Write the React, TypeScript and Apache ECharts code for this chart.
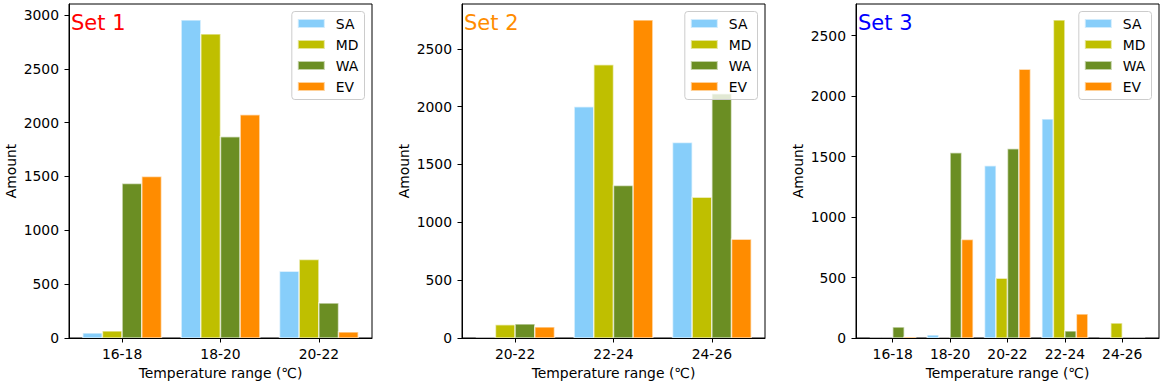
import React, { useEffect, useRef } from "react";
import * as echarts from "echarts";

const seriesNames = ["SA", "MD", "WA", "EV"];
const seriesColors = ["#87CEFA", "#BFBF00", "#6B8E23", "#FF8C00"];

const set1Categories = ["16-18", "18-20", "20-22"];
const set1SA = [46, 2954, 620];
const set1MD = [65, 2824, 729];
const set1WA = [1435, 1870, 324];
const set1EV = [1500, 2074, 56];

const set2Categories = ["20-22", "22-24", "24-26"];
const set2SA = [0, 2000, 1690];
const set2MD = [115, 2362, 1216];
const set2WA = [121, 1319, 2112];
const set2EV = [95, 2750, 853];

const set3Categories = ["16-18", "18-20", "20-22", "22-24", "24-26"];
const set3SA = [0, 25, 1424, 1811, 0];
const set3MD = [0, 0, 494, 2630, 123];
const set3WA = [90, 1531, 1564, 58, 0];
const set3EV = [8, 815, 2222, 198, 0];

const setTitles = ["Set 1", "Set 2", "Set 3"];
const setTitleColors = ["#FF0000", "#FF8C00", "#0000FF"];
const yTickStep = 500;

const panels = [
  { cats: set1Categories, values: [set1SA, set1MD, set1WA, set1EV], left: 69 },
  { cats: set2Categories, values: [set2SA, set2MD, set2WA, set2EV], left: 462 },
  { cats: set3Categories, values: [set3SA, set3MD, set3WA, set3EV], left: 856 },
];

const FONT = "DejaVu Sans";
const FS = 13.9;
const GRID_W = 303;
const GRID_TOP = 4;
const GRID_H = 336;

export default function App() {
  const ref = useRef<HTMLDivElement>(null);
  useEffect(() => {
    if (!ref.current) return;
    const chart = echarts.init(ref.current, undefined, { renderer: "svg" });
    const grids: any[] = [];
    const xAxes: any[] = [];
    const yAxes: any[] = [];
    const series: any[] = [];
    const legends: any[] = [];
    const graphics: any[] = [];
    panels.forEach((p, pi) => {
      const n = p.cats.length;
      const span = n - 1 + 0.8;
      const xmin = -0.4 - 0.05 * span;
      const xmax = n - 1 + 0.4 + 0.05 * span;
      let maxV = 0;
      p.values.forEach((arr) => arr.forEach((v) => (maxV = Math.max(maxV, v))));
      const ymax = maxV * 1.05;
      const yTicks: number[] = [];
      for (let t = 0; t <= ymax; t += yTickStep) yTicks.push(t);
      const xTicks = p.cats.map((_, i) => i);
      grids.push({
        left: p.left,
        top: GRID_TOP,
        width: GRID_W,
        height: GRID_H,
        show: true,
        borderColor: "#000",
        borderWidth: 1,
        backgroundColor: "transparent",
      });
      xAxes.push({
        type: "value",
        gridIndex: pi,
        min: xmin,
        max: xmax,
        splitLine: { show: false },
        axisLine: { show: true, onZero: false, lineStyle: { color: "#000", width: 1 } },
        axisTick: { show: true, length: 4.5, customValues: xTicks, lineStyle: { color: "#000" } },
        axisLabel: {
          customValues: xTicks,
          formatter: (v: number) => p.cats[Math.round(v)] ?? "",
          color: "#000",
          fontSize: FS,
          fontFamily: FONT,
          margin: 9,
        },
        name: "Temperature range (℃)",
        nameLocation: "middle",
        nameGap: 28,
        nameTextStyle: { color: "#000", fontSize: FS, fontFamily: FONT },
      });
      yAxes.push({
        type: "value",
        gridIndex: pi,
        min: 0,
        max: ymax,
        splitLine: { show: false },
        axisLine: { show: true, onZero: false, lineStyle: { color: "#000", width: 1 } },
        axisTick: { show: true, length: 4.5, customValues: yTicks, lineStyle: { color: "#000" } },
        axisLabel: {
          customValues: yTicks,
          formatter: (v: number) => String(Math.round(v)),
          color: "#000",
          fontSize: FS,
          fontFamily: FONT,
          margin: 10,
        },
        name: "Amount",
        nameLocation: "middle",
        nameGap: 51,
        nameTextStyle: { color: "#000", fontSize: FS, fontFamily: FONT },
      });
      p.values.forEach((arr, k) => {
        const color = seriesColors[k];
        series.push({
          type: "custom",
          name: seriesNames[k],
          xAxisIndex: pi,
          yAxisIndex: pi,
          clip: true,
          itemStyle: { color, borderColor: "rgba(255,255,255,0.6)", borderWidth: 1 },
          data: arr.map((v, i) => [i, v]),
          renderItem: (params: any, api: any) => {
            const cat = api.value(0);
            const val = api.value(1);
            const x0 = cat - 0.4 + k * 0.2;
            const x1 = x0 + 0.2;
            const p0 = api.coord([x0, val]);
            const p1 = api.coord([x1, 0]);
            return {
              type: "rect",
              shape: { x: p0[0], y: p0[1], width: p1[0] - p0[0], height: p1[1] - p0[1] },
              style: { fill: color, stroke: "rgba(255,255,255,0.6)", lineWidth: 1.5 },
            };
          },
        });
      });
      legends.push({
        data: seriesNames,
        orient: "vertical",
        right: 1162 - (p.left + GRID_W - 7.5),
        top: 11.5,
        itemWidth: 27,
        itemHeight: 9,
        itemGap: 7,
        icon: "rect",
        selectedMode: false,
        backgroundColor: "rgba(255,255,255,0.8)",
        borderColor: "#cccccc",
        borderWidth: 1,
        borderRadius: 3,
        padding: [5, 6, 6, 5],
        textStyle: { color: "#000", fontSize: FS, fontFamily: FONT, padding: [0, 0, 0, 6] },
      });
      graphics.push({
        type: "text",
        x: p.left + 2,
        y: 22.5,
        z: 100,
        style: {
          text: setTitles[pi],
          fill: setTitleColors[pi],
          fontSize: 21,
          fontFamily: FONT,
          verticalAlign: "middle",
          align: "left",
        },
      });
    });
    chart.setOption({
      animation: false,
      textStyle: { fontFamily: FONT },
      grid: grids,
      xAxis: xAxes,
      yAxis: yAxes,
      series,
      legend: legends,
      graphic: graphics,
    });
    return () => chart.dispose();
  }, []);
  return (
    <div
      ref={ref}
      style={{ position: "fixed", left: 0, top: 0, width: 1162, height: 385, background: "#fff" }}
    />
  );
}
